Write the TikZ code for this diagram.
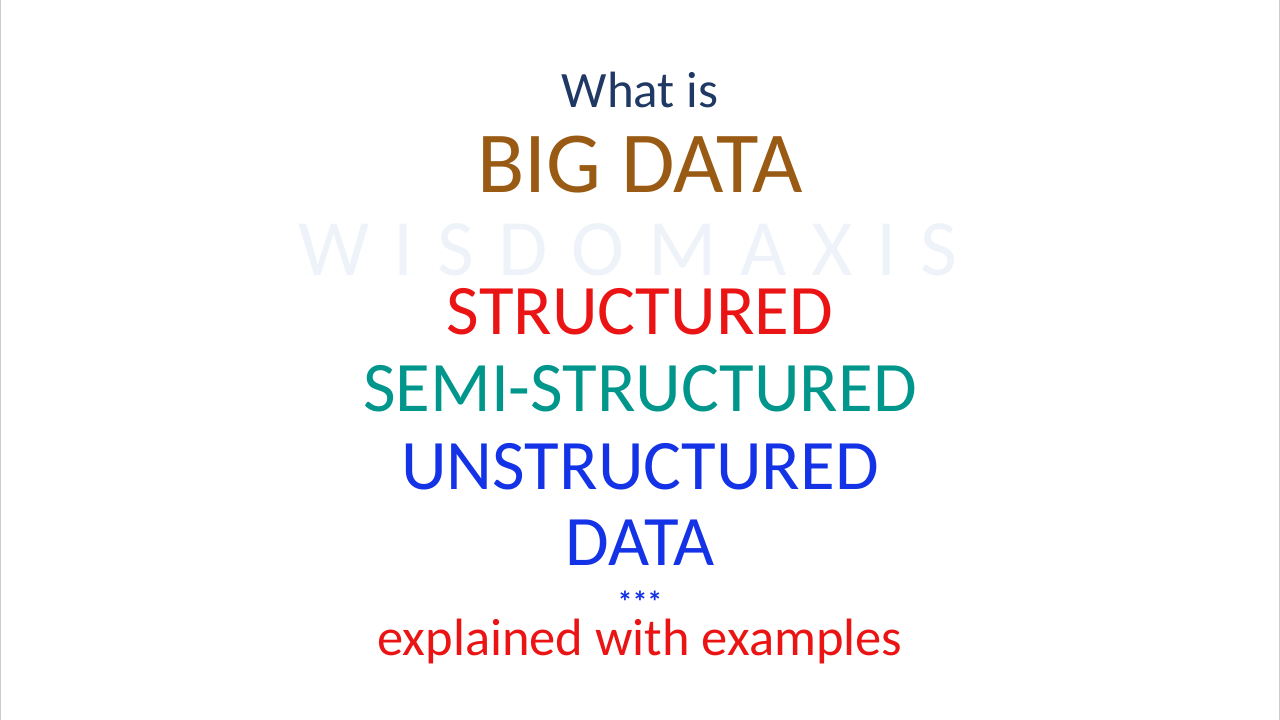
\documentclass[tikz,border=0pt]{standalone}
\usepackage{fontspec}
\setmainfont{Carlito}
\definecolor{navy}{RGB}{31,56,100}
\definecolor{brownc}{RGB}{153,90,20}
\definecolor{redc}{RGB}{235,20,20}
\definecolor{tealc}{RGB}{0,150,140}
\definecolor{bluec}{RGB}{20,50,230}
\definecolor{wm}{RGB}{238,243,250}
\tikzset{txt/.style={anchor=base,inner sep=0pt}}
\begin{document}
\begin{tikzpicture}[x=1pt,y=-1pt]
\useasboundingbox (0,0) rectangle (1280,720);
\draw[gray!40,line width=1pt] (0.5,0) -- (0.5,720) (1279.5,0) -- (1279.5,720);
\node[txt,text=navy,font=\fontsize{51}{51}\selectfont] (t1) at (640,107) {What is};
\node[txt,text=brownc,font=\fontsize{87}{87}\selectfont] (t2) at (640,192) {BIG DATA};
\node[txt,text=wm,font=\fontsize{80}{80}\selectfont] (wmk) at (628,275) {W\hspace{24pt}I\hspace{24pt}S\hspace{24pt}D\hspace{24pt}O\hspace{24pt}M\hspace{24pt}A\hspace{24pt}X\hspace{24pt}I\hspace{24pt}S};
\node[txt,text=redc,font=\fontsize{71}{71}\selectfont] (t3) at (640,334) {STRUCTURED};
\node[txt,text=tealc,font=\fontsize{71}{71}\selectfont] (t4) at (640,411) {SEMI-STRUCTURED};
\node[txt,text=bluec,font=\fontsize{71}{71}\selectfont] (t5) at (640,489) {UNSTRUCTURED};
\node[txt,text=bluec,font=\fontsize{71}{71}\selectfont] (t6) at (640,565) {DATA};
\node[txt,text=bluec,font=\fontsize{30}{30}\selectfont\bfseries] (t7) at (640,612) {***};
\node[txt,text=redc,font=\fontsize{52.5}{52.5}\selectfont] (t8) at (640,655) {explained with examples};
\end{tikzpicture}
\end{document}
